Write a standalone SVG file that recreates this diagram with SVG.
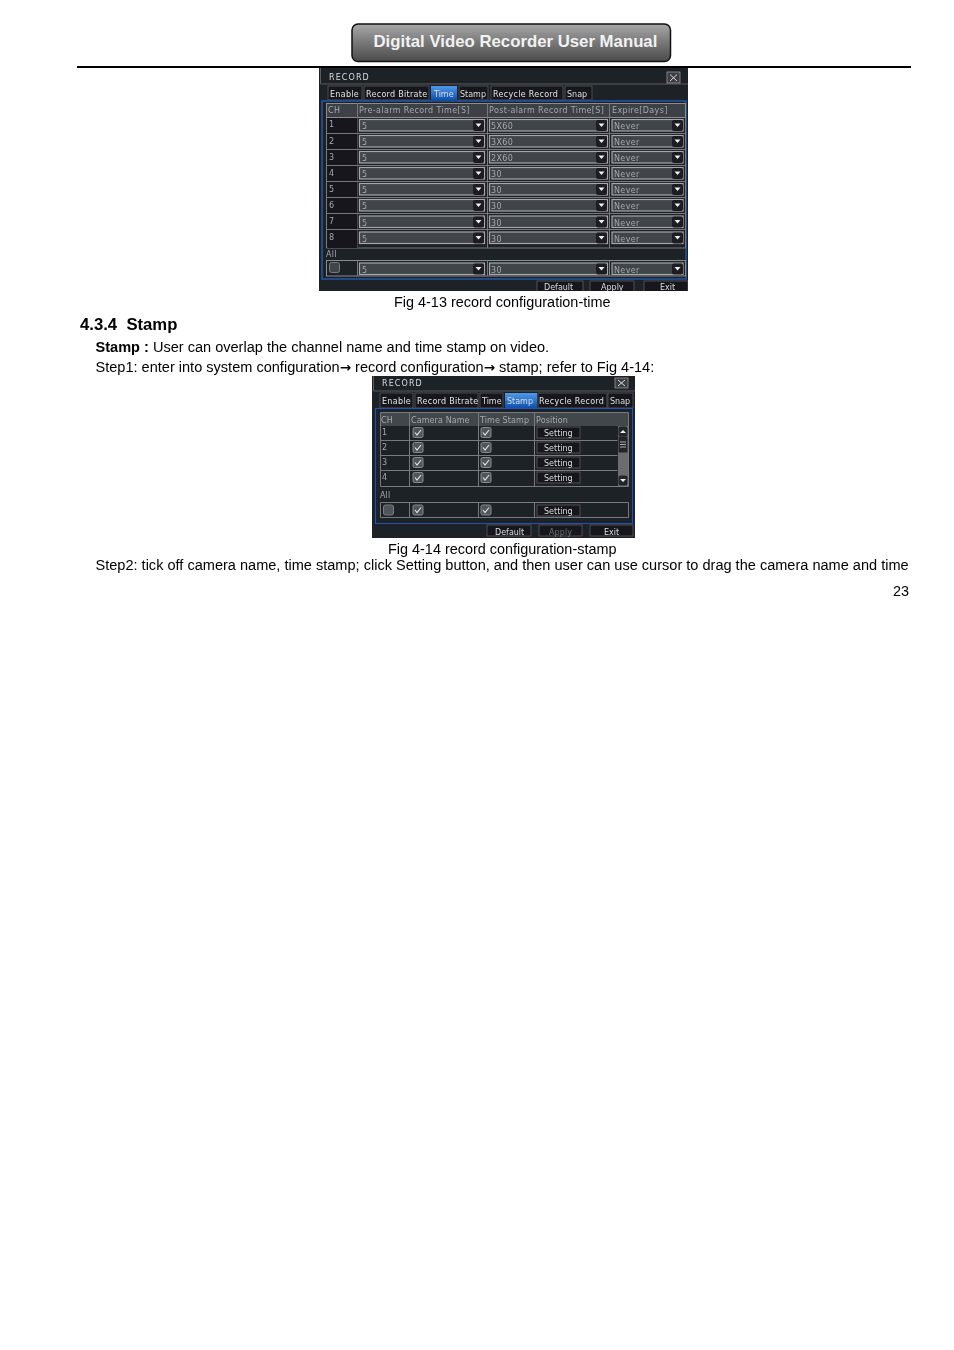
<svg xmlns="http://www.w3.org/2000/svg" width="954" height="1350" viewBox="0 0 954 1350">
<defs>
<linearGradient id="hdr" x1="0" y1="0" x2="0" y2="1"><stop offset="0" stop-color="#a8a8a8"/><stop offset="0.45" stop-color="#7c7c7c"/><stop offset="1" stop-color="#4a4a4a"/></linearGradient>
<linearGradient id="tab" x1="0" y1="0" x2="0" y2="1"><stop offset="0" stop-color="#4f9ae8"/><stop offset="1" stop-color="#0f4fb0"/></linearGradient>
<filter id="soft" x="0" y="0" width="1" height="1"><feGaussianBlur stdDeviation="0.35"/></filter>
<g id="dd"><rect x="0" y="0" width="11" height="11" rx="2" fill="#1c1f24"/><path d="M2.500 3.500h6L5.500 7z" fill="#eee"/></g>
<g id="chk"><rect x="0" y="0" width="10" height="10" rx="1.500" fill="#50555b" stroke="#8a8d90"/><path d="M2 5l2 2.500 4-5" fill="none" stroke="#e4e4e4" stroke-width="1.200"/></g>
</defs>
<style>
.b{font-family:"Liberation Sans",Arial,sans-serif;font-size:14.56px;fill:#000}
.c{font-family:"Liberation Sans",Arial,sans-serif;font-size:14.43px;fill:#000}
.d{font-family:"DejaVu Sans",sans-serif;font-size:8px;fill:#a6a9ab;letter-spacing:.36px}
#fig-4-14 .d{letter-spacing:.1px}
.t{font-family:"DejaVu Sans",sans-serif;font-size:8px;fill:#dcddde}
.tt{font-family:"DejaVu Sans",sans-serif;font-size:8px;fill:#e2e3e4;letter-spacing:.3px}
.ti{font-family:"DejaVu Sans",sans-serif;font-size:8px;fill:#dcddde;letter-spacing:1.100px}
.s{fill:#3f444a;stroke:#a5a8aa;stroke-width:1.200}
.tb{fill:#17191c;stroke:#55585b;stroke-width:.8}
.btn{fill:#14161a;stroke:#5a5d60;stroke-width:.8}
.l{stroke:#77797b;stroke-width:1;fill:none}
</style>
<rect width="954" height="1350" fill="#fff"/>

<g id="page-header">
<rect x="352" y="24" width="318.500" height="37.500" rx="6" fill="url(#hdr)" stroke="#111" stroke-width="1.500"/>
<text x="373.500" y="47" font-family="Liberation Sans, Arial, sans-serif" font-weight="700" font-size="16.770" fill="#f2f2f2">Digital Video Recorder User Manual</text>
<rect x="77" y="66" width="834" height="2" fill="#000"/>
</g>

<g id="fig-4-13" filter="url(#soft)">
<rect x="319" y="68" width="369" height="223" fill="#1d2025"/>
<path d="M320.500 68v16H688" fill="none" stroke="#5a5c5e"/>
<text x="329" y="80" class="ti">RECORD</text>
<rect x="667" y="72" width="13" height="11" fill="#3a3d41" stroke="#9a9a9a" stroke-width=".8"/>
<path d="M670 74.500l7 6.500M677 74.500l-7 6.500" stroke="#ddd"/>
<rect x="328" y="86" width="34" height="14" class="tb"/><text x="330" y="97" class="tt">Enable</text>
<rect x="364" y="86" width="65" height="14" class="tb"/><text x="366" y="97" class="tt">Record Bitrate</text>
<rect x="431" y="86" width="26" height="14" fill="url(#tab)"/><text x="434" y="97" class="t">Time</text>
<rect x="459" y="86" width="29" height="14" class="tb"/><text x="460" y="97" class="t">Stamp</text>
<rect x="491" y="86" width="72" height="14" class="tb"/><text x="493" y="97" class="tt">Recycle Record</text>
<rect x="565" y="86" width="27" height="14" class="tb"/><text x="567" y="97" class="t">Snap</text>
<rect x="322" y="101" width="364" height="178" fill="none" stroke="#2455a8" stroke-width="1.500"/>
<rect x="326.500" y="103.500" width="359" height="14" fill="#3c4046" stroke="#8a8c8e"/>
<path class="l" d="M357.500 103v145M487.500 103v145M609.500 103v145"/>
<text x="328" y="113" class="d">CH</text><text x="359" y="113" class="d">Pre-alarm Record Time[S]</text><text x="489" y="113" class="d">Post-alarm Record Time[S]</text><text x="612" y="113" class="d">Expire[Days]</text>
<path class="l" d="M326.500 117.500v130.500h359V117.500M326.500 133.500h359M326.500 149.500h359M326.500 165.500h359M326.500 181.500h359M326.500 197.500h359M326.500 213.500h359M326.500 229.500h359"/>
<g>
<rect x="327.500" y="118" width="30" height="130" fill="#15171b"/>
<path class="l" d="M327 133.500h31M327 149.500h31M327 165.500h31M327 181.500h31M327 197.500h31M327 213.500h31M327 229.500h31"/>
<text x="329" y="127" class="d">1</text><text x="329" y="144" class="d">2</text><text x="329" y="160" class="d">3</text><text x="329" y="176" class="d">4</text><text x="329" y="192" class="d">5</text><text x="329" y="208" class="d">6</text><text x="329" y="224" class="d">7</text><text x="329" y="240" class="d">8</text>
</g>
<g id="r13-1"><rect class="s" x="359.500" y="119.500" width="125" height="11.500"/><rect class="s" x="489.500" y="119.500" width="118" height="11.500"/><rect class="s" x="612" y="119.500" width="71" height="11.500"/><use href="#dd" x="473" y="120"/><use href="#dd" x="596" y="120"/><use href="#dd" x="672" y="120"/><text x="362" y="129" class="d">5</text><text x="491" y="129" class="d">5X60</text><text x="614" y="129" class="d">Never</text></g>
<g id="r13-2"><rect class="s" x="359.500" y="135.500" width="125" height="11.500"/><rect class="s" x="489.500" y="135.500" width="118" height="11.500"/><rect class="s" x="612" y="135.500" width="71" height="11.500"/><use href="#dd" x="473" y="136"/><use href="#dd" x="596" y="136"/><use href="#dd" x="672" y="136"/><text x="362" y="145" class="d">5</text><text x="491" y="145" class="d">3X60</text><text x="614" y="145" class="d">Never</text></g>
<g id="r13-3"><rect class="s" x="359.500" y="151.500" width="125" height="11.500"/><rect class="s" x="489.500" y="151.500" width="118" height="11.500"/><rect class="s" x="612" y="151.500" width="71" height="11.500"/><use href="#dd" x="473" y="152"/><use href="#dd" x="596" y="152"/><use href="#dd" x="672" y="152"/><text x="362" y="161" class="d">5</text><text x="491" y="161" class="d">2X60</text><text x="614" y="161" class="d">Never</text></g>
<g id="r13-4"><rect class="s" x="359.500" y="167.500" width="125" height="11.500"/><rect class="s" x="489.500" y="167.500" width="118" height="11.500"/><rect class="s" x="612" y="167.500" width="71" height="11.500"/><use href="#dd" x="473" y="168"/><use href="#dd" x="596" y="168"/><use href="#dd" x="672" y="168"/><text x="362" y="177" class="d">5</text><text x="491" y="177" class="d">30</text><text x="614" y="177" class="d">Never</text></g>
<g id="r13-5"><rect class="s" x="359.500" y="183.500" width="125" height="11.500"/><rect class="s" x="489.500" y="183.500" width="118" height="11.500"/><rect class="s" x="612" y="183.500" width="71" height="11.500"/><use href="#dd" x="473" y="184"/><use href="#dd" x="596" y="184"/><use href="#dd" x="672" y="184"/><text x="362" y="193" class="d">5</text><text x="491" y="193" class="d">30</text><text x="614" y="193" class="d">Never</text></g>
<g id="r13-6"><rect class="s" x="359.500" y="199.500" width="125" height="11.500"/><rect class="s" x="489.500" y="199.500" width="118" height="11.500"/><rect class="s" x="612" y="199.500" width="71" height="11.500"/><use href="#dd" x="473" y="200"/><use href="#dd" x="596" y="200"/><use href="#dd" x="672" y="200"/><text x="362" y="209" class="d">5</text><text x="491" y="209" class="d">30</text><text x="614" y="209" class="d">Never</text></g>
<g id="r13-7"><rect class="s" x="359.500" y="216" width="125" height="11.500"/><rect class="s" x="489.500" y="216" width="118" height="11.500"/><rect class="s" x="612" y="216" width="71" height="11.500"/><use href="#dd" x="473" y="216.500"/><use href="#dd" x="596" y="216.500"/><use href="#dd" x="672" y="216.500"/><text x="362" y="225.500" class="d">5</text><text x="491" y="225.500" class="d">30</text><text x="614" y="225.500" class="d">Never</text></g>
<g id="r13-8"><rect class="s" x="359.500" y="232" width="125" height="11.500"/><rect class="s" x="489.500" y="232" width="118" height="11.500"/><rect class="s" x="612" y="232" width="71" height="11.500"/><use href="#dd" x="473" y="232.500"/><use href="#dd" x="596" y="232.500"/><use href="#dd" x="672" y="232.500"/><text x="362" y="241.500" class="d">5</text><text x="491" y="241.500" class="d">30</text><text x="614" y="241.500" class="d">Never</text></g>
<text x="326" y="257" class="d">All</text>
<rect x="326.500" y="260.500" width="359" height="15.500" fill="none" stroke="#8a8c8e"/>
<path class="l" d="M357.500 260v16M487.500 260v16M609.500 260v16"/>
<rect x="329.500" y="262.500" width="10" height="10" rx="2" fill="#3f444a" stroke="#7a7d80"/>
<g id="r13-all"><rect class="s" x="359.500" y="263" width="125" height="11.500"/><rect class="s" x="489.500" y="263" width="118" height="11.500"/><rect class="s" x="612" y="263" width="71" height="11.500"/><use href="#dd" x="473" y="263.500"/><use href="#dd" x="596" y="263.500"/><use href="#dd" x="672" y="263.500"/><text x="362" y="272.500" class="d">5</text><text x="491" y="272.500" class="d">30</text><text x="614" y="272.500" class="d">Never</text></g>
<rect x="537" y="281" width="46" height="11" class="btn"/><text x="544" y="290" class="t">Default</text>
<rect x="590" y="281" width="44" height="11" class="btn"/><text x="601" y="290" class="t">Apply</text>
<rect x="644" y="281" width="44" height="11" class="btn"/><text x="660" y="290" class="t">Exit</text>
</g>
<rect x="319" y="291" width="369" height="3" fill="#fff"/>

<g id="page-text">
<text x="394" y="307" class="c">Fig 4-13 record configuration-time</text>
<text x="80" y="330" font-family="Liberation Sans, Arial, sans-serif" font-weight="700" font-size="16.700" xml:space="preserve">4.3.4  Stamp</text>
<text x="95.500" y="352" class="b"><tspan font-weight="700">Stamp :</tspan> User can overlap the channel name and time stamp on video.</text>
<text x="95.500" y="372" class="b">Step1: enter into system configuration<tspan font-family="DejaVu Sans, sans-serif" font-size="13.500px" font-weight="700">→</tspan> record configuration<tspan font-family="DejaVu Sans, sans-serif" font-size="13.500px" font-weight="700">→</tspan> stamp; refer to Fig 4-14:</text>
<text x="388" y="554" class="c">Fig 4-14 record configuration-stamp</text>
<text x="95.500" y="570" class="b">Step2: tick off camera name, time stamp; click Setting button, and then user can use cursor to drag the camera name and time</text>
<text x="893" y="596" class="c">23</text>
</g>

<g id="fig-4-14" filter="url(#soft)">
<rect x="372" y="376" width="263" height="162" fill="#1d2025"/>
<path d="M373.500 376v15H635" fill="none" stroke="#5a5c5e"/>
<text x="382" y="386" class="ti">RECORD</text>
<rect x="615" y="378" width="13" height="10" fill="#3a3d41" stroke="#9a9a9a" stroke-width=".8"/>
<path d="M618 380l7 6M625 380l-7 6" stroke="#ddd"/>
<rect x="380" y="393" width="33" height="15" class="tb"/><text x="382" y="404" class="tt">Enable</text>
<rect x="415" y="393" width="63" height="15" class="tb"/><text x="417" y="404" class="tt">Record Bitrate</text>
<rect x="480" y="393" width="23" height="15" class="tb"/><text x="482" y="404" class="t">Time</text>
<rect x="505" y="393" width="32" height="15" fill="url(#tab)"/><text x="507" y="404" class="t">Stamp</text>
<rect x="538" y="393" width="69" height="15" class="tb"/><text x="539" y="404" class="tt">Recycle Record</text>
<rect x="608" y="393" width="25" height="15" class="tb"/><text x="610" y="404" class="t">Snap</text>
<rect x="375.500" y="408.500" width="257" height="115" fill="none" stroke="#2455a8" stroke-width="1.200"/>
<rect x="380.500" y="412.500" width="248" height="13.500" fill="#43474c"/>
<text x="381" y="423" class="d">CH</text><text x="411" y="423" class="d">Camera Name</text><text x="480" y="423" class="d">Time Stamp</text><text x="536" y="423" class="d">Position</text>
<path class="l" d="M380.500 412.500h248v74h-248zM380.500 440.500h237M380.500 455.500h237M380.500 470.500h237M409.500 412.500v74M478.500 412.500v74M534.500 412.500v74"/>
<rect x="618" y="426" width="10" height="60" fill="#6a6d70"/>
<rect x="618.500" y="426.500" width="9" height="10" rx="2" fill="#22252a"/><path d="M620 433l3-3 3 3z" fill="#eee"/>
<rect x="618.500" y="436.500" width="9" height="16" fill="#22252a"/><path d="M620 442h6M620 444.500h6M620 447h6" stroke="#aaa"/>
<rect x="618.500" y="475.500" width="9" height="10" rx="2" fill="#22252a"/><path d="M620 479l3 3 3-3z" fill="#eee"/>
<g id="r14-1"><text x="382" y="435" class="d">1</text><use href="#chk" x="413" y="427.500"/><use href="#chk" x="481" y="427.500"/><rect x="537" y="427" width="43" height="11" class="btn"/><text x="544" y="436" class="t">Setting</text></g>
<g id="r14-2"><text x="382" y="450" class="d">2</text><use href="#chk" x="413" y="442.500"/><use href="#chk" x="481" y="442.500"/><rect x="537" y="442" width="43" height="11" class="btn"/><text x="544" y="451" class="t">Setting</text></g>
<g id="r14-3"><text x="382" y="465" class="d">3</text><use href="#chk" x="413" y="457.500"/><use href="#chk" x="481" y="457.500"/><rect x="537" y="457" width="43" height="11" class="btn"/><text x="544" y="466" class="t">Setting</text></g>
<g id="r14-4"><text x="382" y="480" class="d">4</text><use href="#chk" x="413" y="472.500"/><use href="#chk" x="481" y="472.500"/><rect x="537" y="472" width="43" height="11" class="btn"/><text x="544" y="481" class="t">Setting</text></g>
<text x="380" y="498" class="d">All</text>
<path class="l" d="M380.500 502.500h248v15h-248zM409.500 502.500v15M478.500 502.500v15M534.500 502.500v15"/>
<rect x="383.500" y="505" width="10" height="10" rx="2" fill="#50555b" stroke="#7a7d80"/>
<g id="r14-all"><use href="#chk" x="413" y="505"/><use href="#chk" x="481" y="505"/><rect x="537" y="505" width="43" height="11" class="btn"/><text x="544" y="514" class="t">Setting</text></g>
<rect x="487" y="525" width="44" height="11" class="btn"/><text x="495" y="535" class="t">Default</text>
<rect x="539" y="525" width="43" height="11" class="btn"/><text x="549" y="535" class="d" fill-opacity=".6">Apply</text>
<rect x="590" y="525" width="43" height="11" class="btn"/><text x="604" y="535" class="t">Exit</text>
</g>
</svg>
